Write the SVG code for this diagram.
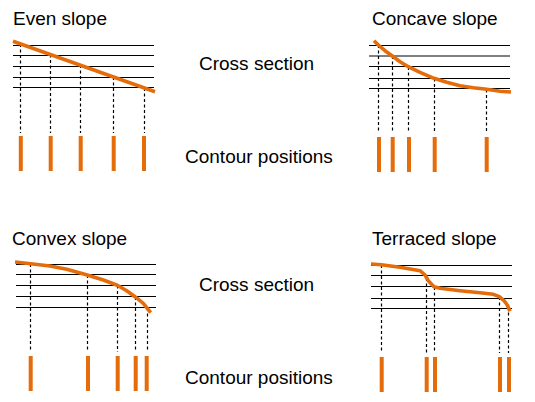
<svg xmlns="http://www.w3.org/2000/svg" width="535" height="402" viewBox="0 0 535 402">
<style>
text{font-family:"Liberation Sans",Arial,sans-serif;font-size:19px;fill:#000}
.h{stroke:#000;stroke-width:1.2;fill:none}
.d{stroke:#000;stroke-width:1.2;stroke-dasharray:3,2.5;fill:none}
.c{stroke:#e46c0a;stroke-width:3.6;fill:none;stroke-linejoin:round}
.b{fill:#e46c0a}
</style>
<rect width="535" height="402" fill="#fff"/>
<g id="labels">
<text x="199" y="70">Cross section</text>
<text x="185" y="163">Contour positions</text>
<text x="199" y="291">Cross section</text>
<text x="185" y="384">Contour positions</text>
</g>
<g id="even">
<text x="13" y="25">Even slope</text>
<path class="h" d="M13,45.5H154M13,55.5H154M13,66.5H154M13,77.5H154M13,87.5H154"/>
<path class="d" d="M20.5,44V133M50.5,54.5V133M80.5,65V133M113.5,77V133M144.5,88V133"/>
<path class="c" d="M13,41.3L155,91.7"/>
<rect class="b" x="18.8" y="136" width="4" height="35"/>
<rect class="b" x="48.7" y="136" width="4" height="35"/>
<rect class="b" x="78.7" y="136" width="4" height="35"/>
<rect class="b" x="111.7" y="136" width="4" height="35"/>
<rect class="b" x="142" y="136" width="4" height="35"/>
</g>
<g id="concave">
<text x="372" y="25">Concave slope</text>
<path class="h" d="M369,45.5H510M369,56H510M369,66.5H510M369,78.5H510M369,88.5H510"/>
<path class="d" d="M378.5,45V133M392.5,56V133M408.5,67V133M434.5,78.5V133M486.5,89.5V133"/>
<polyline class="c" points="374,40.7 378.3,45 385,50.7 392.3,56 400,61.7 408.3,66.7 420,72.3 434,78.3 446.7,82.3 460,85.7 473.3,87.7 486.7,89.3 500,91.3 511,92"/>
<rect class="b" x="377" y="137" width="4" height="35"/>
<rect class="b" x="390.7" y="137" width="4" height="35"/>
<rect class="b" x="407" y="137" width="4" height="35"/>
<rect class="b" x="432.7" y="137" width="4" height="35"/>
<rect class="b" x="484.7" y="137" width="4" height="35"/>
</g>
<g id="convex">
<text x="12" y="245">Convex slope</text>
<path class="h" d="M16,264.5H156M16,274.5H156M16,285.5H156M16,296.5H156M16,307.5H156"/>
<path class="d" d="M30.5,264V352M87.5,275V352M117.5,285.5V352M135.5,297V352M147.5,308V352"/>
<polyline class="c" points="15,262 30.7,263.7 50,266 66.7,269.3 87.3,275 103.3,280 117.3,285.3 126.7,290.7 135,296.7 143.3,303.3 150.7,312.7"/>
<rect class="b" x="28.7" y="356" width="4" height="35"/>
<rect class="b" x="86" y="356" width="4" height="35"/>
<rect class="b" x="115.7" y="356" width="4" height="35"/>
<rect class="b" x="133.7" y="356" width="4" height="35"/>
<rect class="b" x="144.7" y="356" width="4" height="35"/>
</g>
<g id="terraced">
<text x="372" y="245">Terraced slope</text>
<path class="h" d="M371,265.5H512M371,275.5H512M371,286.5H512M371,298.5H512M371,308.5H512"/>
<path class="d" d="M381.5,265V353M426.5,278V353M434.5,287V353M499.5,297V353M508.5,307V353"/>
<polyline class="c" points="371,264 381.3,264.7 400,267.3 420,270.7 425,275 428.3,280.7 434,286.7 440,288.3 460,290.7 480,292.7 493.3,294.3 499.3,296.7 504,300.7 507.3,305 510,311.3"/>
<rect class="b" x="379.7" y="357" width="4" height="35"/>
<rect class="b" x="424.7" y="357" width="4" height="35"/>
<rect class="b" x="433" y="357" width="4" height="35"/>
<rect class="b" x="498" y="357" width="4" height="35"/>
<rect class="b" x="507" y="357" width="4" height="35"/>
</g>
</svg>
